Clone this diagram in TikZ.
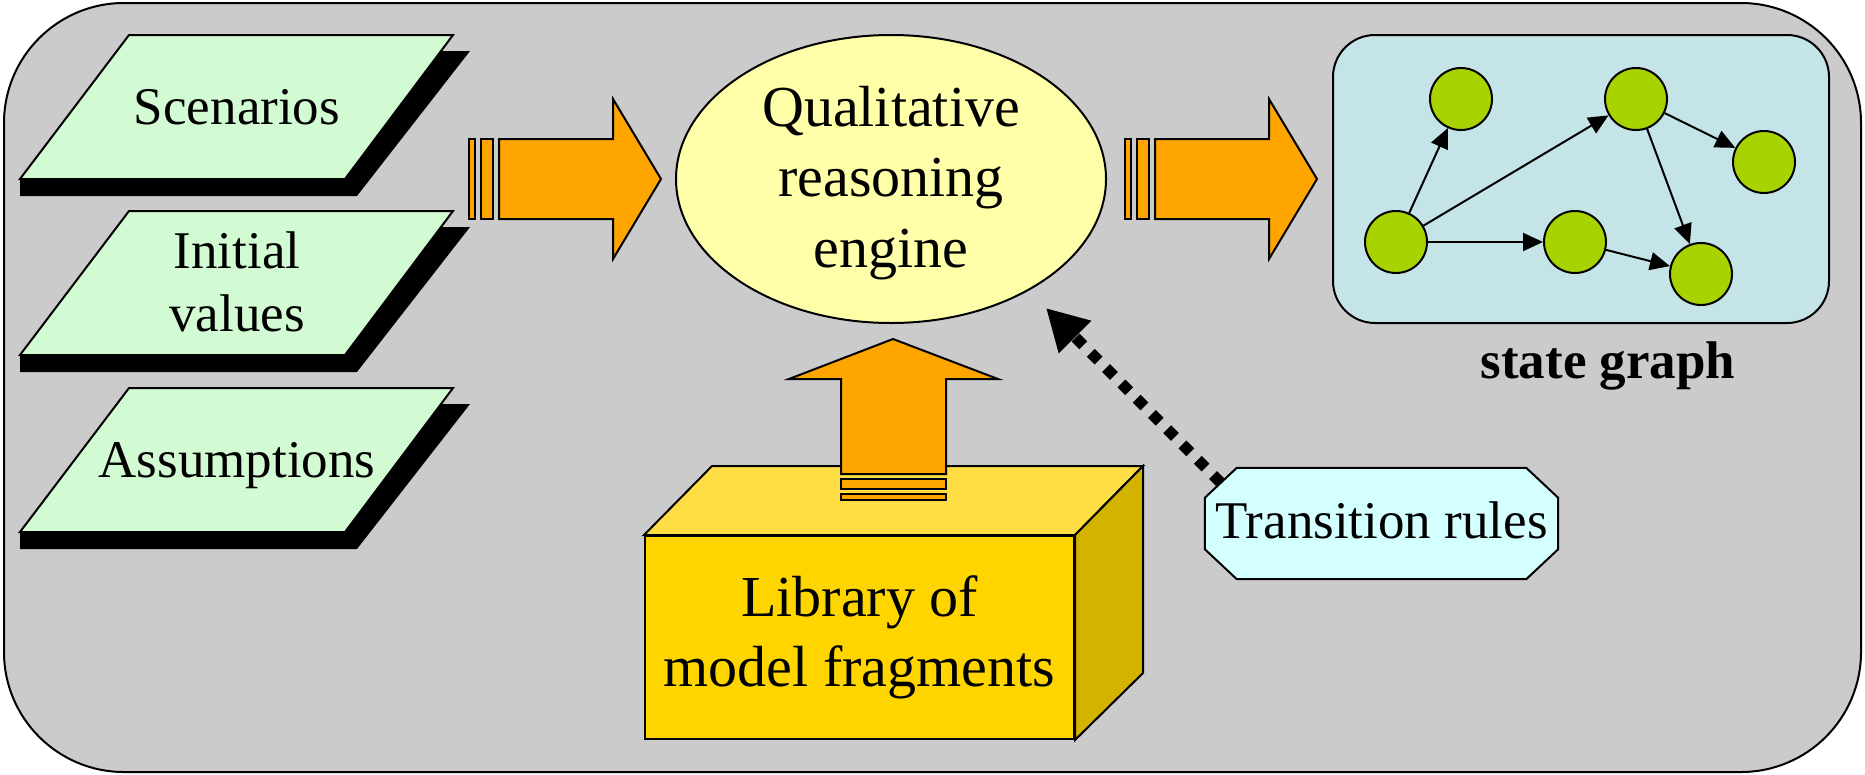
\documentclass[tikz,border=0pt]{standalone}
\usepackage{fontspec}
\setmainfont{Liberation Serif}
\usetikzlibrary{arrows.meta,calc,shapes.geometric}
\pgfdeclarelayer{background}
\pgfsetlayers{background,main}

\definecolor{panel}{HTML}{CBCBCB}
\definecolor{paper}{HTML}{D3FBD3}
\definecolor{flow}{HTML}{FFA500}
\definecolor{engine}{HTML}{FFFFAA}
\definecolor{boxfront}{HTML}{FFD500}
\definecolor{boxtop}{HTML}{FFDD44}
\definecolor{boxside}{HTML}{D4B200}
\definecolor{rules}{HTML}{D4FFFF}
\definecolor{graphbg}{HTML}{C4E4E8}
\definecolor{state}{HTML}{A9D300}

\newcommand{\bigtext}{\fontsize{53}{63.6}\selectfont}
\newcommand{\hugetext}{\fontsize{58}{70.3}\selectfont}

\begin{document}
\begin{tikzpicture}[x=1pt,y=-1pt,line join=miter,
  outline/.style={draw=black,line width=2pt},
  paperface/.style={outline,fill=paper},
  shadowface/.style={fill=black},
  flowshape/.style={outline,fill=flow},
  label/.style={inner sep=0pt,align=center,font=\bigtext},
  statenode/.style={circle,outline,fill=state,minimum size=62pt,inner sep=0pt},
  edge/.style={line width=2pt,-{Triangle[length=20pt,width=18pt]}},
  dotarrow/.style={line width=11pt,dash pattern=on 11pt off 10.6pt,
                   -{Triangle[length=41pt,width=43pt]}}]

\useasboundingbox (0,0) rectangle (1865,774);

% outer panel
\begin{pgfonlayer}{background}
\draw[outline,fill=panel,rounded corners=120pt] (4,3) rectangle (1861,772);
\end{pgfonlayer}

% input sheets with drop shadows
\foreach \t in {35,211,388}{
  \fill[shadowface] (20,\t+144) -- (20,\t+161) -- (357,\t+161) -- (470,\t+16) -- (420,\t+16) -- cycle;
  \draw[paperface] (129,\t) -- (453,\t) -- (345,\t+144) -- (20,\t+144) -- cycle;
}
\node[label,anchor=base] (scn) at (237,124) {Scenarios};
\node[label] (ini) at (237,282) {Initial\\values};
\node[label,anchor=base] (asm) at (237,477) {Assumptions};

% arrow into the engine
\draw[flowshape] (469,139) rectangle (475,219);
\draw[flowshape] (481,139) rectangle (493,219);
\draw[flowshape] (499,139) -- (613,139) -- (613,99) -- (661,179) -- (613,259) -- (613,219) -- (499,219) -- cycle;

% reasoning engine
\node[ellipse,outline,fill=engine,minimum width=430pt,minimum height=288pt,inner sep=0pt] (qre) at (891,179) {};
\node[label,font=\hugetext] (qretext) at (891,183) {Qualitative\\reasoning\\engine};

% arrow out of the engine
\draw[flowshape] (1125,139) rectangle (1131,219);
\draw[flowshape] (1137,139) rectangle (1149,219);
\draw[flowshape] (1155,139) -- (1269,139) -- (1269,99) -- (1317,179) -- (1269,259) -- (1269,219) -- (1155,219) -- cycle;

% library box
\node[rectangle,outline,fill=boxfront,minimum width=429pt,minimum height=203pt,
      inner sep=0pt,align=center,font=\hugetext] (lib) at (859.5,637.5) {Library of\\model fragments};
\draw[outline,fill=boxtop] (lib.north west) -- ++(68,-69) -- ($(lib.north east)+(68,-69)$) -- (lib.north east) -- cycle;
\draw[outline,fill=boxside] (lib.north east) -- ++(68,-69) -- ($(lib.south east)+(68,-67)$) -- (lib.south east) -- cycle;

% arrow from the library up into the engine
\draw[flowshape] (841,474) -- (841,379) -- (789,379) -- (893,339) -- (998,379) -- (946,379) -- (946,474) -- cycle;
\draw[flowshape] (841,479) rectangle (946,489);
\draw[flowshape] (841,494) rectangle (946,500);

% transition rules
\node[label,minimum width=353pt,minimum height=111pt] (tr) at (1381.5,523.5) {};
\node[label,anchor=base] (trtext) at (1381.5,538) {Transition rules};
\begin{pgfonlayer}{background}
\draw[outline,fill=rules]
  ($(tr.north west)+(32,0)$) -- ($(tr.north east)+(-32,0)$) -- ($(tr.north east)+(0,30)$)
  -- ($(tr.south east)+(0,-30)$) -- ($(tr.south east)+(-32,0)$) -- ($(tr.south west)+(32,0)$)
  -- ($(tr.south west)+(0,-30)$) -- ($(tr.north west)+(0,30)$) -- cycle;
\end{pgfonlayer}
\coordinate (qretip) at (1046,308);
\draw[dotarrow] ($(tr.north west)+(16,15)$) -- (qretip);

% state graph
\node[rectangle,rounded corners=42pt,outline,fill=graphbg,minimum width=496pt,minimum height=288pt,inner sep=0pt] (sg) at (1581,179) {};
\node[statenode] (sA) at (1396,242) {};
\node[statenode] (sB) at (1461,99) {};
\node[statenode] (sC) at (1636,99) {};
\node[statenode] (sD) at (1764,162) {};
\node[statenode] (sE) at (1575,242) {};
\node[statenode] (sF) at (1701,274) {};
\draw[edge] (sA) -- (sB);
\draw[edge] (sA) -- (sC);
\draw[edge] (sA) -- (sE);
\draw[edge] (sC) -- (sD);
\draw[edge] (sC) -- (sF);
\draw[edge] (sE) -- (sF);
\node[label,anchor=base,font=\bigtext\bfseries] (sglabel) at (1608,378) {state graph};

\end{tikzpicture}
\end{document}
